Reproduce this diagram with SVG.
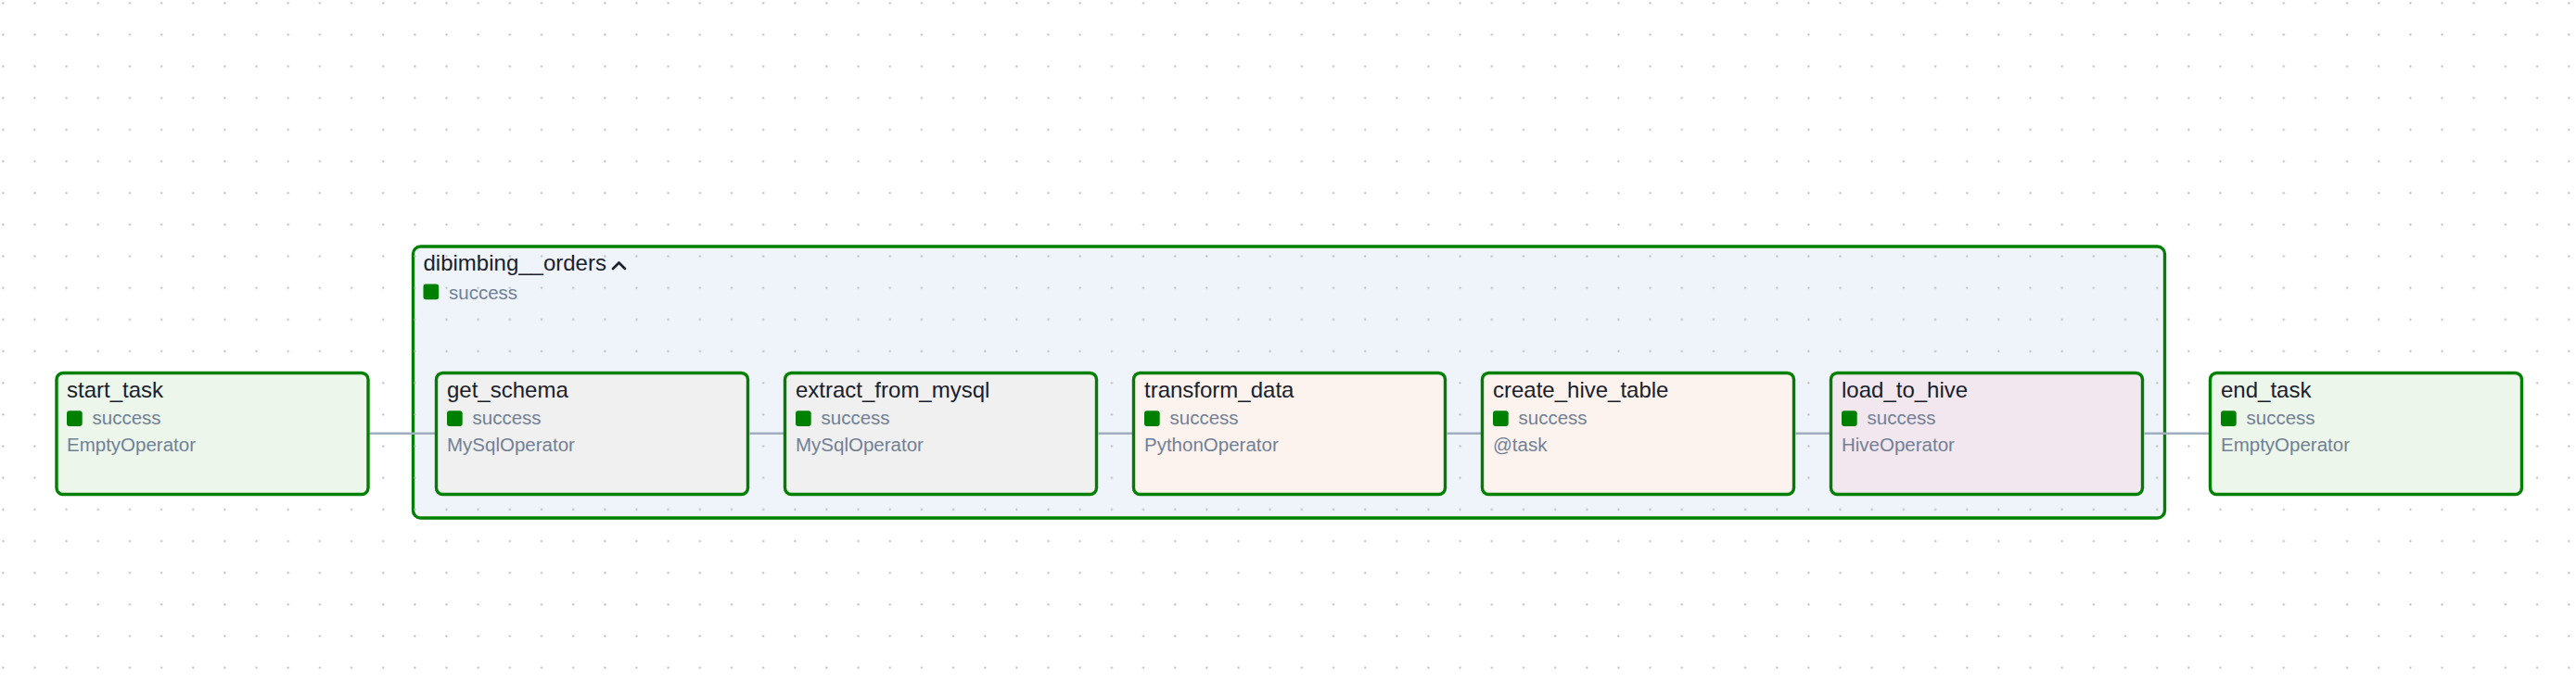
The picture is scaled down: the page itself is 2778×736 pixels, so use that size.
<svg xmlns="http://www.w3.org/2000/svg" width="2778" height="736" viewBox="0 0 2778 736">
  <defs>
    <pattern id="dots" x="0" y="0" width="34.16" height="34.16" patternUnits="userSpaceOnUse">
      <circle cx="3.3" cy="3.3" r="1.1" fill="#b5b5b5"/>
    </pattern>
  </defs>
  <style>
    .node { stroke: #008000; stroke-width: 3.4; }
    .empty { fill: #ecf6ea; }
    .mysql { fill: #f0f0f0; }
    .py { fill: #fdf3ee; }
    .hive { fill: #f2e7ee; }
    .group { fill: #eff4fb; stroke: #008000; stroke-width: 3.4; }
    .title { font-family: "Liberation Sans", Arial, sans-serif; font-size: 24px; fill: #1a202c; }
    .sub { font-family: "Liberation Sans", Arial, sans-serif; font-size: 20.5px; fill: #718096; }
    .state { fill: #008000; }
    .edge { stroke: #a0aec0; stroke-width: 2.5; fill: none; }
  </style>
  <rect x="0" y="0" width="2778" height="736" fill="#ffffff"/>

  <g id="dibimbing__orders">
    <rect class="group" x="445.5" y="266" width="1889" height="293" rx="8"/>
    <rect x="445.5" y="266" width="1889" height="293" rx="8" fill="url(#dots)"/>
    <text class="title" x="456.5" y="291.5">dibimbing__orders</text>
    <path d="M661,290 L667.5,283.5 L674,290" stroke="#1a202c" stroke-width="2.7" fill="none" stroke-linecap="round" stroke-linejoin="round"/>
    <rect class="state" x="456.5" y="306.5" width="16.7" height="16.7" rx="3"/>
    <text class="sub" x="484" y="322.5">success</text>
  </g>

  <g id="background-dots">
    <rect x="0" y="0" width="445" height="736" fill="url(#dots)"/>
    <rect x="2336" y="0" width="442" height="736" fill="url(#dots)"/>
    <rect x="445" y="0" width="1891" height="264.5" fill="url(#dots)"/>
    <rect x="445" y="560.5" width="1891" height="175.5" fill="url(#dots)"/>
  </g>

  <g id="connectors">
    <line class="edge" x1="398.5" y1="467.7" x2="469" y2="467.7"/>
    <line class="edge" x1="808.5" y1="467.7" x2="845" y2="467.7"/>
    <line class="edge" x1="1184.5" y1="467.7" x2="1221" y2="467.7"/>
    <line class="edge" x1="1560.5" y1="467.7" x2="1597" y2="467.7"/>
    <line class="edge" x1="1936.5" y1="467.7" x2="1973" y2="467.7"/>
    <line class="edge" x1="2312.5" y1="467.7" x2="2382" y2="467.7"/>
  </g>

  <g id="start_task">
    <rect class="node empty" x="61" y="402.5" width="336" height="131" rx="7"/>
    <text class="title" x="72" y="428.5">start_task</text>
    <rect class="state" x="72" y="443.3" width="16.7" height="16.7" rx="3"/>
    <text class="sub" x="99.5" y="458.3">success</text>
    <text class="sub" x="72" y="487.3">EmptyOperator</text>
  </g>

  <g id="get_schema">
    <rect class="node mysql" x="470.5" y="402.5" width="336" height="131" rx="7"/>
    <text class="title" x="482" y="428.5">get_schema</text>
    <rect class="state" x="482" y="443.3" width="16.7" height="16.7" rx="3"/>
    <text class="sub" x="509.5" y="458.3">success</text>
    <text class="sub" x="482" y="487.3">MySqlOperator</text>
  </g>

  <g id="extract_from_mysql">
    <rect class="node mysql" x="846.5" y="402.5" width="336" height="131" rx="7"/>
    <text class="title" x="858" y="428.5">extract_from_mysql</text>
    <rect class="state" x="858" y="443.3" width="16.7" height="16.7" rx="3"/>
    <text class="sub" x="885.5" y="458.3">success</text>
    <text class="sub" x="858" y="487.3">MySqlOperator</text>
  </g>

  <g id="transform_data">
    <rect class="node py" x="1222.5" y="402.5" width="336" height="131" rx="7"/>
    <text class="title" x="1234" y="428.5">transform_data</text>
    <rect class="state" x="1234" y="443.3" width="16.7" height="16.7" rx="3"/>
    <text class="sub" x="1261.5" y="458.3">success</text>
    <text class="sub" x="1234" y="487.3">PythonOperator</text>
  </g>

  <g id="create_hive_table">
    <rect class="node py" x="1598.5" y="402.5" width="336" height="131" rx="7"/>
    <text class="title" x="1610" y="428.5">create_hive_table</text>
    <rect class="state" x="1610" y="443.3" width="16.7" height="16.7" rx="3"/>
    <text class="sub" x="1637.5" y="458.3">success</text>
    <text class="sub" x="1610" y="487.3">@task</text>
  </g>

  <g id="load_to_hive">
    <rect class="node hive" x="1974.5" y="402.5" width="336" height="131" rx="7"/>
    <text class="title" x="1986" y="428.5">load_to_hive</text>
    <rect class="state" x="1986" y="443.3" width="16.7" height="16.7" rx="3"/>
    <text class="sub" x="2013.5" y="458.3">success</text>
    <text class="sub" x="1986" y="487.3">HiveOperator</text>
  </g>

  <g id="end_task">
    <rect class="node empty" x="2383.5" y="402.5" width="336" height="131" rx="7"/>
    <text class="title" x="2395" y="428.5">end_task</text>
    <rect class="state" x="2395" y="443.3" width="16.7" height="16.7" rx="3"/>
    <text class="sub" x="2422.5" y="458.3">success</text>
    <text class="sub" x="2395" y="487.3">EmptyOperator</text>
  </g>
</svg>
